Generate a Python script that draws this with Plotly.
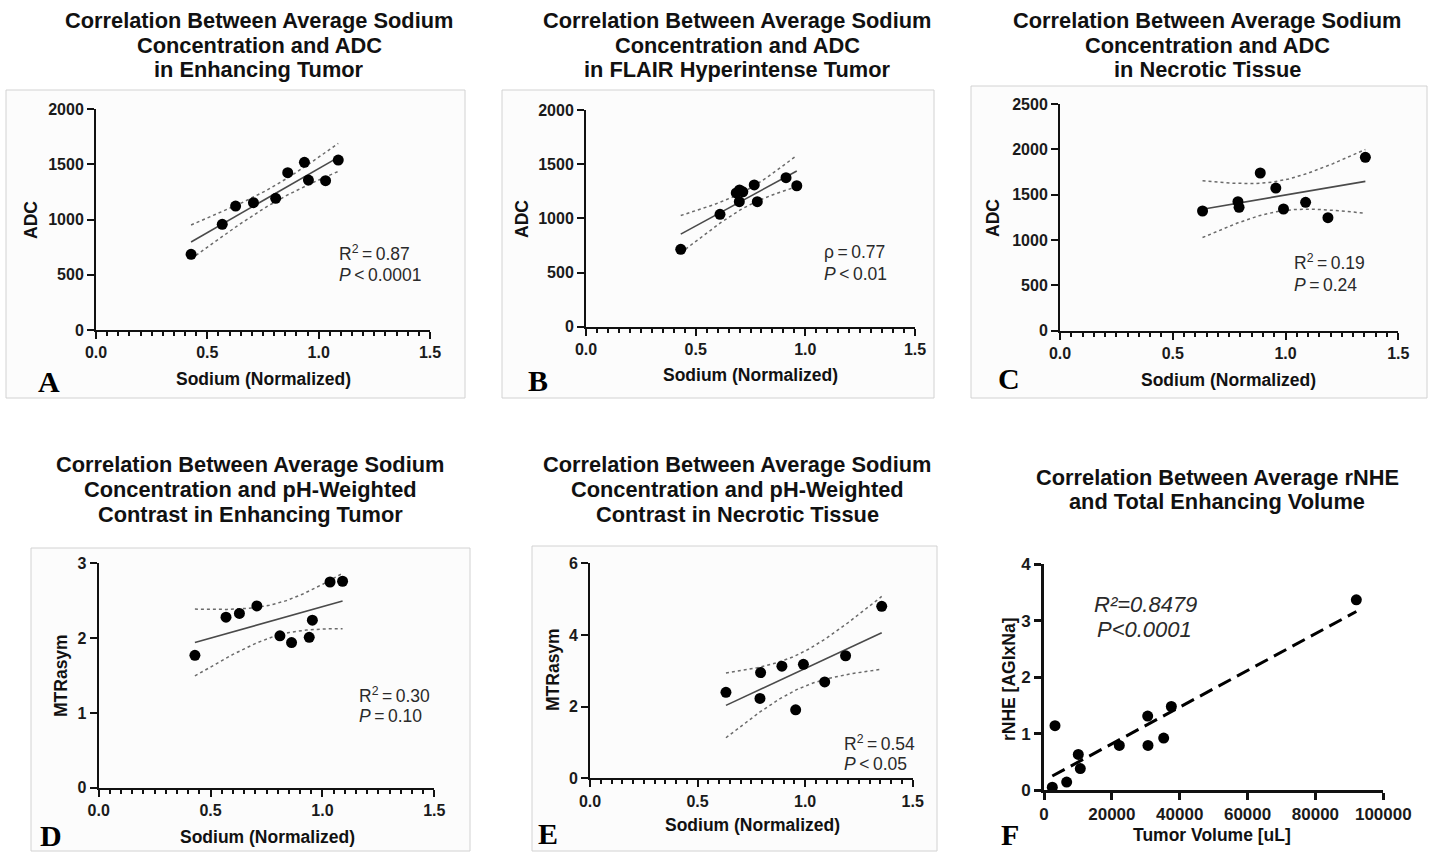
import numpy as np
import plotly.graph_objects as go

W, H = 1432, 852

# ---------------- data ----------------
# A: sodium vs ADC, enhancing tumor
a_sodium = [0.427, 0.567, 0.627, 0.707, 0.807, 0.861, 0.936, 0.954, 1.031, 1.088]
a_adc = [685, 956, 1122, 1152, 1192, 1424, 1517, 1357, 1351, 1538]

# B: sodium vs ADC, FLAIR hyperintense tumor
b_sodium = [0.432, 0.611, 0.685, 0.700, 0.715, 0.699, 0.767, 0.781, 0.912, 0.961]
b_adc = [714, 1037, 1235, 1262, 1245, 1154, 1308, 1154, 1375, 1301]

# C: sodium vs ADC, necrotic tissue
c_sodium = [0.632, 0.789, 0.794, 0.888, 0.957, 0.991, 1.089, 1.188, 1.354]
c_adc = [1320, 1423, 1361, 1739, 1573, 1342, 1416, 1246, 1912]

# D: sodium vs MTRasym, enhancing tumor
d_sodium = [0.430, 0.569, 0.629, 0.707, 0.810, 0.862, 0.941, 0.955, 1.034, 1.090]
d_mtr = [1.77, 2.28, 2.33, 2.43, 2.03, 1.94, 2.01, 2.24, 2.75, 2.76]

# E: sodium vs MTRasym, necrotic tissue
e_sodium = [0.632, 0.793, 0.790, 0.892, 0.956, 0.992, 1.091, 1.188, 1.356]
e_mtr = [2.40, 2.95, 2.23, 3.13, 1.91, 3.18, 2.69, 3.42, 4.80]

# F: tumor volume vs rNHE
f_volume = [2450, 3240, 6680, 10110, 10700, 22200, 30560, 30650, 35270, 37530, 92050]
f_rnhe = [0.05, 1.14, 0.14, 0.63, 0.38, 0.79, 1.31, 0.79, 0.92, 1.48, 3.37]

# ---------------- helpers ----------------
FONT = "Liberation Sans"
SERIF = "Liberation Serif"
INK = "#111111"

T95 = {6: 2.447, 7: 2.365, 8: 2.306, 9: 2.262, 10: 2.228}


def fx(px):
    return px / W


def fy(py):
    return 1 - py / H


def linear_fit(x, y, n_pts=120):
    x = np.asarray(x, float)
    y = np.asarray(y, float)
    n = len(x)
    b, a = np.polyfit(x, y, 1)
    xs = np.linspace(x.min(), x.max(), n_pts)
    ys = a + b * xs
    resid = y - (a + b * x)
    s = np.sqrt(np.sum(resid ** 2) / (n - 2))
    sxx = np.sum((x - x.mean()) ** 2)
    half = T95[n - 2] * s * np.sqrt(1.0 / n + (xs - x.mean()) ** 2 / sxx)
    return xs, ys, ys - half, ys + half


fig = go.Figure()
annotations = []
shapes = []


def ann(text, px, py, size, bold=False, italic=False, xanchor="center",
        family=FONT, color=INK):
    if italic:
        text = "<i>" + text + "</i>"
    annotations.append(dict(
        text=text, x=fx(px), y=fy(py), xref="paper", yref="paper",
        xanchor=xanchor, yanchor="middle", showarrow=False,
        font=dict(family=family, size=size, color=color,
                  weight="bold" if bold else "normal"),
    ))


def box(x0, y0, x1, y1):
    shapes.append(dict(type="rect", xref="paper", yref="paper",
                       x0=fx(x0), x1=fx(x1), y0=fy(y1), y1=fy(y0),
                       line=dict(color="#d2d2d2", width=1),
                       fillcolor="#fcfcfc", layer="below"))


panels = [
    dict(key="A", x=a_sodium, y=a_adc, xpx=(96, 430), ypx=(330, 109),
         yr=(0, 2000), ydt=500, ci=True),
    dict(key="B", x=b_sodium, y=b_adc, xpx=(586, 915), ypx=(326.7, 110),
         yr=(0, 2000), ydt=500, ci=True),
    dict(key="C", x=c_sodium, y=c_adc, xpx=(1060, 1398.3), ypx=(330.7, 104),
         yr=(0, 2500), ydt=500, ci=True),
    dict(key="D", x=d_sodium, y=d_mtr, xpx=(98.7, 434.3), ypx=(787.7, 563.3),
         yr=(0, 3), ydt=1, ci=True),
    dict(key="E", x=e_sodium, y=e_mtr, xpx=(590, 912.7), ypx=(778.3, 563.3),
         yr=(0, 6), ydt=2, ci=True),
    dict(key="F", x=f_volume, y=f_rnhe, xpx=(1044, 1383.3), ypx=(790, 564.3),
         yr=(0, 4), ydt=1, ci=False),
]

layout_axes = {}
for i, p in enumerate(panels, start=1):
    xa = "x" if i == 1 else f"x{i}"
    ya = "y" if i == 1 else f"y{i}"
    xkey = "xaxis" if i == 1 else f"xaxis{i}"
    ykey = "yaxis" if i == 1 else f"yaxis{i}"

    xs, ys, lo, hi = linear_fit(p["x"], p["y"])
    if p["ci"]:
        for band in (lo, hi):
            fig.add_trace(go.Scatter(
                x=xs, y=band, mode="lines", xaxis=xa, yaxis=ya,
                line=dict(color="#6a6a6a", width=1.5, dash="3px,3px"),
                hoverinfo="skip", showlegend=False))
        fig.add_trace(go.Scatter(
            x=xs, y=ys, mode="lines", xaxis=xa, yaxis=ya,
            line=dict(color="#4a4a4a", width=1.6),
            hoverinfo="skip", showlegend=False))
    else:
        fig.add_trace(go.Scatter(
            x=xs, y=ys, mode="lines", xaxis=xa, yaxis=ya,
            line=dict(color="#000000", width=3, dash="14px,7px"),
            hoverinfo="skip", showlegend=False))
    fig.add_trace(go.Scatter(
        x=p["x"], y=p["y"], mode="markers", xaxis=xa, yaxis=ya,
        marker=dict(color="#000000", size=11, line=dict(width=0)),
        showlegend=False))

    tick_font = dict(family=FONT, size=16 if p["ci"] else 17,
                     color="#1a1a1a", weight="bold")
    lw = 2 if p["ci"] else 2.6
    if p["ci"]:
        xcfg = dict(range=[0, 1.5], dtick=0.5, tick0=0, tickformat=".1f",
                    minor=dict(dtick=0.05, tick0=0, ticks="outside",
                               ticklen=4, tickwidth=1.5, tickcolor=INK,
                               showgrid=False))
    else:
        xcfg = dict(range=[0, 100000], dtick=20000, tick0=0,
                    tickformat="d")
    layout_axes[xkey] = dict(
        domain=[fx(p["xpx"][0]), fx(p["xpx"][1])], anchor=ya,
        showline=True, linecolor=INK, linewidth=lw, mirror=False,
        ticks="outside", ticklen=7, tickwidth=lw, tickcolor=INK,
        showgrid=False, zeroline=False, tickfont=tick_font,
        automargin=False, fixedrange=True, **xcfg)
    layout_axes[ykey] = dict(
        domain=[fy(p["ypx"][0]), fy(p["ypx"][1])], anchor=xa,
        range=list(p["yr"]), dtick=p["ydt"], tick0=0,
        showline=True, linecolor=INK, linewidth=lw,
        ticks="outside", ticklen=7, tickwidth=lw, tickcolor=INK,
        showgrid=False, zeroline=False, tickfont=tick_font,
        automargin=False, fixedrange=True)

fig.update_layout(**layout_axes)

# panel frames
box(6, 90, 465, 398)
box(502, 90, 934, 398)
box(971, 86, 1427, 398)
box(31, 548, 470, 851)
box(532, 546, 937, 851)

# titles
TS = 21.8
for cx, lines, y0 in [
    (259, ["Correlation Between Average Sodium", "Concentration and ADC",
           "in Enhancing Tumor"], 20),
    (737, ["Correlation Between Average Sodium", "Concentration and ADC",
           "in FLAIR Hyperintense Tumor"], 20),
    (1207, ["Correlation Between Average Sodium", "Concentration and ADC",
            "in Necrotic Tissue"], 20),
    (250, ["Correlation Between Average Sodium",
           "Concentration and pH-Weighted",
           "Contrast in Enhancing Tumor"], 464),
    (737, ["Correlation Between Average Sodium",
           "Concentration and pH-Weighted",
           "Contrast in Necrotic Tissue"], 464),
    (1217, ["Correlation Between Average rNHE",
            "and Total Enhancing Volume"], 477),
]:
    for k, line in enumerate(lines):
        ann(line, cx, y0 + 25 * k, TS, bold=True)

# axis titles
AX = 17.5
for text, px, py in [("Sodium (Normalized)", 263, 379),
                     ("Sodium (Normalized)", 750, 375),
                     ("Sodium (Normalized)", 1228, 380),
                     ("Sodium (Normalized)", 267, 837),
                     ("Sodium (Normalized)", 752, 825),
                     ("Tumor Volume [uL]", 1212, 835)]:
    ann(text, px, py, AX, bold=True)

for text, px, py in [("ADC", 31, 220), ("ADC", 522, 219), ("ADC", 993, 218),
                     ("MTRasym", 61, 675), ("MTRasym", 553, 670),
                     ("rNHE [AGIxNa]", 1009, 679)]:
    annotations.append(dict(
        text=text, x=fx(px), y=fy(py), xref="paper", yref="paper",
        xanchor="center", yanchor="middle", showarrow=False, textangle=-90,
        font=dict(family=FONT, size=AX, color=INK, weight="bold")))

# statistics
SS = 17.5
TH = "\u2009"
stats = [
    (f"R<sup>2</sup>{TH}={TH}0.87", f"<i>P</i>{TH}<{TH}0.0001", 337, 253, 275),
    (f"\u03c1{TH}={TH}0.77", f"<i>P</i>{TH}<{TH}0.01", 822, 252, 274),
    (f"R<sup>2</sup>{TH}={TH}0.19", f"<i>P</i>{TH}={TH}0.24", 1292, 262, 285),
    (f"R<sup>2</sup>{TH}={TH}0.30", f"<i>P</i>{TH}={TH}0.10", 357, 695, 716),
    (f"R<sup>2</sup>{TH}={TH}0.54", f"<i>P</i>{TH}<{TH}0.05", 842, 743, 764),
]
for l1, l2, px, py1, py2 in stats:
    ann(l1, px, py1, SS, xanchor="left", color="#2a2a2a")
    ann(l2, px, py2, SS, xanchor="left", color="#2a2a2a")
ann("R\u00b2=0.8479", 1145, 604, 22, italic=True, color="#2a2a2a")
ann("P<0.0001", 1144, 629, 22, italic=True, color="#2a2a2a")

# panel letters
for letter, px, py in [("A", 49, 382), ("B", 538, 380), ("C", 1009, 378),
                       ("D", 51, 835), ("E", 548, 833), ("F", 1010, 834)]:
    ann(letter, px, py, 30, bold=True, family=SERIF, color="#000000")

fig.update_layout(
    width=W, height=H, autosize=False,
    margin=dict(l=0, r=0, t=0, b=0, pad=0, autoexpand=False),
    paper_bgcolor="#ffffff", plot_bgcolor="rgba(0,0,0,0)",
    showlegend=False, annotations=annotations, shapes=shapes,
    font=dict(family=FONT, color=INK),
)

fig.write_html(
    "out.html",
    config={"responsive": False, "displayModeBar": False},
    post_script=("document.documentElement.style.margin='0';"
                 "document.body.style.margin='0';"
                 "document.body.style.overflow='hidden';"),
)
